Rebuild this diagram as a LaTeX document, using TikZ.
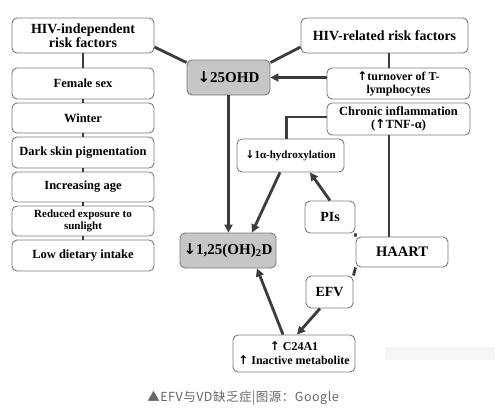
\documentclass[tikz,border=0pt]{standalone}
\usepackage{fontspec}
\setmainfont{Liberation Serif}
\newfontfamily\cjkfont{Noto Sans CJK SC}
\newfontfamily\arrfont{DejaVu Sans}
\newcommand{\myup}{{\arrfont\bfseries ↑}}
\newcommand{\mydn}{{\arrfont\bfseries ↓}}
\usetikzlibrary{arrows.meta,calc}
\definecolor{conn}{HTML}{3C3C3C}
\definecolor{boxline}{HTML}{7A7A7A}
\definecolor{grayfill}{HTML}{C6C6C6}
\tikzset{
  box/.style={draw=boxline,line width=0.9pt,rounded corners=5pt,fill=white,
    align=center,inner sep=1pt,font=\bfseries},
  graybox/.style={box,fill=grayfill},
  link/.style={draw=conn,line width=2.8pt},
  arr/.style={link,-{Triangle[length=8pt,width=8pt]}},
}
\begin{document}
\begin{tikzpicture}[x=1pt,y=-1pt]
\useasboundingbox (0,0) rectangle (501,410);
% left column
\node[box,minimum width=142pt,minimum height=35pt,font=\bfseries\fontsize{14}{14}\selectfont] (indep) at (83,35.5) {HIV-independent\\risk factors};
\node[box,minimum width=142pt,minimum height=31pt,font=\bfseries\fontsize{12.5}{13}\selectfont] (female) at (83,83.5) {Female sex};
\node[box,minimum width=142pt,minimum height=30pt,font=\bfseries\fontsize{12.5}{13}\selectfont] (winter) at (83,118) {Winter};
\node[box,minimum width=142pt,minimum height=31pt,font=\bfseries\fontsize{12.5}{13}\selectfont] (dark) at (83,152.5) {Dark skin pigmentation};
\node[box,minimum width=142pt,minimum height=30pt,font=\bfseries\fontsize{12.5}{13}\selectfont] (age) at (83,187) {Increasing age};
\node[box,minimum width=142pt,minimum height=30pt,font=\bfseries\fontsize{11}{12}\selectfont] (reduced) at (83,221) {Reduced exposure to\\sunlight};
\node[box,minimum width=142pt,minimum height=31pt,font=\bfseries\fontsize{12.5}{13}\selectfont] (low) at (83,255.5) {Low dietary intake};
% center
\node[graybox,minimum width=83pt,minimum height=35pt,font=\bfseries\fontsize{15}{15}\selectfont] (ohd) at (228.5,77.5) {\mydn25OHD};
\node[graybox,minimum width=96pt,minimum height=35pt,font=\bfseries\fontsize{15}{15}\selectfont] (d125) at (228,250.5) {\mydn1,25(OH)\textsubscript{2}D};
% right
\node[box,minimum width=167pt,minimum height=35pt,font=\bfseries\fontsize{14}{14}\selectfont] (related) at (384.5,35.5) {HIV-related risk factors};
\node[box,minimum width=143pt,minimum height=31pt,font=\bfseries\fontsize{12}{13}\selectfont] (turnover) at (398.5,83.5) {\myup turnover of T-\\lymphocytes};
\node[box,minimum width=143pt,minimum height=32pt,font=\bfseries\fontsize{12.5}{13}\selectfont] (chronic) at (398.5,119) {Chronic inflammation\\(\myup TNF-α)};
\node[box,minimum width=107pt,minimum height=33pt,font=\bfseries\fontsize{11}{12}\selectfont] (hydrox) at (290.5,155.5) {\mydn1α-hydroxylation};
\node[box,minimum width=50pt,minimum height=32pt,font=\bfseries\fontsize{14}{14}\selectfont] (pis) at (330,217) {PIs};
\node[box,minimum width=92pt,minimum height=30pt,font=\bfseries\fontsize{14.5}{15}\selectfont] (haart) at (402,252) {HAART};
\node[box,minimum width=47pt,minimum height=32pt,font=\bfseries\fontsize{14}{14}\selectfont] (efv) at (329.5,292) {EFV};
\node[box,minimum width=122pt,minimum height=37pt,font=\bfseries\fontsize{12}{14}\selectfont] (c24) at (294,353.5) {\myup{} C24A1\\\myup{} Inactive metabolite};
% blurred watermark
\fill[gray!8] (385,347) rectangle (495,360);
% caption
\node[font=\cjkfont\fontsize{12.5}{12.5}\selectfont\addfontfeatures{LetterSpace=4},text=black!60] (cap) at (243,398) {▲EFV与VD缺乏症|图源：Google};
% connectors
\coordinate (vx) at (389,0);
\draw[link] (indep.south) -- (female.north);
\draw[link] (female.south) -- (winter.north);
\draw[link] (winter.south) -- (dark.north);
\draw[link] (dark.south) -- (age.north);
\draw[link] (age.south) -- (reduced.north);
\draw[link] (reduced.south) -- (low.north);
\draw[link] ($(indep.east)+(0,11.5)$) -- ($(ohd.north west)+(0,3)$);
\draw[link] ($(related.west)+(0,11.5)$) -- ($(ohd.north east)+(0,3)$);
\draw[link] (related.south -| vx) -- (turnover.north -| vx);
\draw[arr] (turnover.west |- ohd.east) -- (ohd.east);
\draw[link] ($(chronic.west)+(0,-2)$) -| ($(hydrox.north west)+(50,0)$);
\draw[link] (chronic.south -| vx) -- (haart.north -| vx);
\draw[arr] (ohd.south) -- (ohd.south |- d125.north);
\draw[arr] ($(hydrox.south)+(-10.5,0)$) -- ($(d125.north)+(24,0)$);
\draw[arr] (pis.north) -- ($(hydrox.south)+(19.5,0)$);
\draw[link] (pis.south east) -- (haart.north west);
\draw[link] (haart.south west) -- (efv.north east);
\draw[arr] ($(efv.south)+(-9.5,0)$) -- ($(c24.north)+(3,0)$);
\draw[arr] ($(c24.north)+(-11,0)$) -- ($(d125.south)+(29,0)$);
\end{tikzpicture}
\end{document}
